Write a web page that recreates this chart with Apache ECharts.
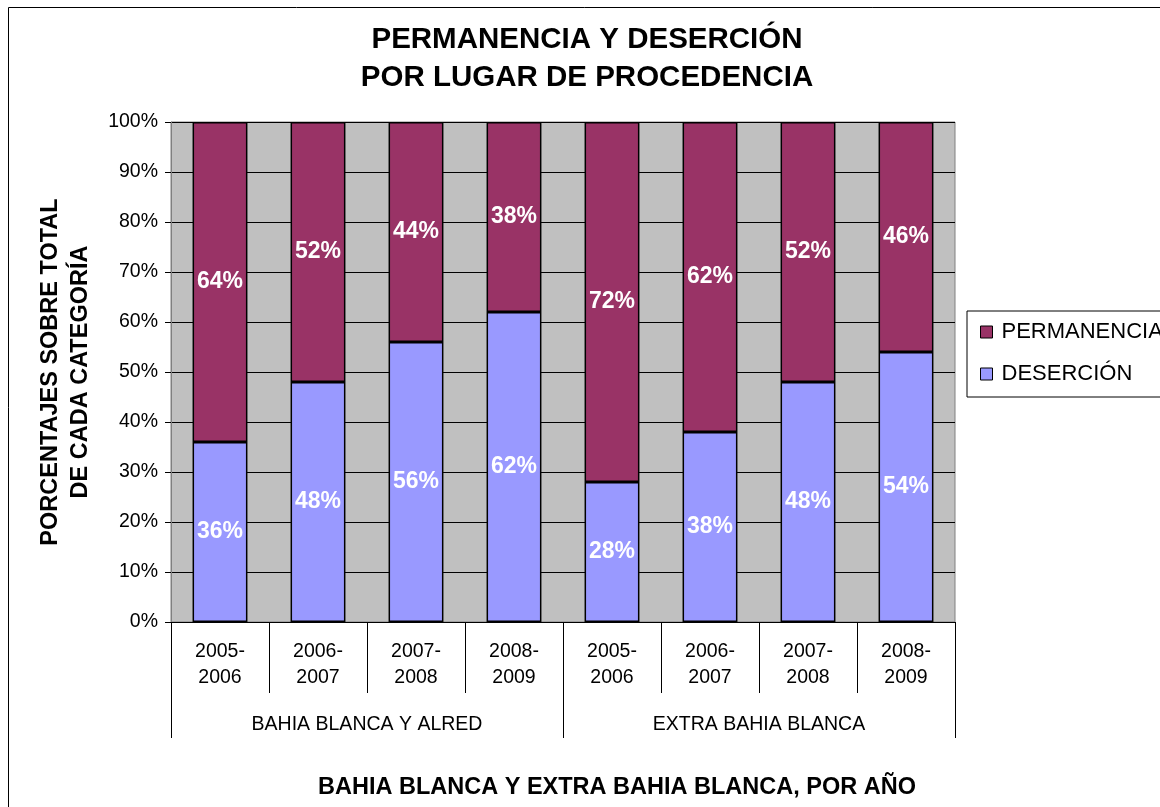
<!DOCTYPE html>
<html>
<head>
<meta charset="utf-8">
<title>Permanencia y deserción</title>
<script src="https://cdn.jsdelivr.net/npm/echarts@6/dist/echarts.min.js"></script>
<style>
html,body{margin:0;padding:0;background:#fff;}
#chart{width:1160px;height:807px;}
</style>
</head>
<body>
<div id="chart"></div>
<script>
// datos
var years = ['2005-\n2006','2006-\n2007','2007-\n2008','2008-\n2009','2005-\n2006','2006-\n2007','2007-\n2008','2008-\n2009'];
var groups = ['BAHIA BLANCA Y ALRED','EXTRA BAHIA BLANCA'];
var desercion = [36,48,56,62,28,38,48,54];
var permanencia = [64,52,44,38,72,62,52,46];

var fuente = 'Arial, "Liberation Sans", sans-serif';

var myChart = echarts.init(document.getElementById('chart'));

var labelBar = {
	show: true,
	position: 'inside',
	color: '#fff',
	fontSize: 23,
	fontWeight: 'bold',
	fontFamily: fuente,
	formatter: '{c}%'
};

option = {
	backgroundColor: '#fff',
	animation: false,
	textStyle: { fontFamily: fuente },
	graphic: [
		{
			type: 'rect',
			z: -10,
			shape: { x: 8.5, y: 7.5, width: 1300, height: 900 },
			style: { fill: 'none', stroke: '#000', lineWidth: 1 }
		}
	],
	title: [
		{
			text: 'PERMANENCIA Y DESERCIÓN\nPOR LUGAR DE PROCEDENCIA',
			left: 587,
			top: 21,
			padding: 0,
			textAlign: 'center',
			textStyle: { fontSize: 29.5, fontWeight: 'bold', color: '#000', lineHeight: 38, fontFamily: fuente }
		},
		{
			text: 'BAHIA BLANCA Y EXTRA BAHIA BLANCA, POR AÑO',
			left: 617,
			top: 776,
			padding: 0,
			textAlign: 'center',
			textStyle: { fontSize: 23.5, fontWeight: 'bold', color: '#000', lineHeight: 24, fontFamily: fuente }
		}
	],
	legend: {
		orient: 'vertical',
		left: 967,
		top: 311,
		padding: [10, 30, 12, 13],
		itemGap: 20,
		itemWidth: 12,
		itemHeight: 12,
		icon: 'rect',
		borderColor: '#000',
		borderWidth: 1,
		backgroundColor: '#fff',
		data: ['PERMANENCIA', 'DESERCIÓN'],
		itemStyle: { borderColor: '#000', borderWidth: 1 },
		textStyle: { fontSize: 22, color: '#000', lineHeight: 22, padding: [0, 0, 0, 4], fontFamily: fuente }
	},
	grid: {
		left: 171,
		top: 122,
		right: 205,
		bottom: 185,
		show: true,
		backgroundColor: '#C0C0C0',
		borderColor: '#808080',
		borderWidth: 1,
		outerBoundsMode: 'none'
	},
	xAxis: [
		{
			type: 'category',
			data: years,
			position: 'bottom',
			axisLine: { show: true, lineStyle: { color: '#000', width: 1 } },
			axisTick: { show: true, length: 71, interval: 0, lineStyle: { color: '#000' } },
			axisLabel: { interval: 0, margin: 17, fontSize: 19.5, lineHeight: 26, color: '#000', fontFamily: fuente },
			splitLine: { show: false }
		},
		{
			type: 'category',
			data: groups,
			position: 'bottom',
			axisLine: { show: false },
			axisTick: { show: true, length: 116, interval: 0, lineStyle: { color: '#000' } },
			axisLabel: { interval: 0, margin: 92, fontSize: 19.5, lineHeight: 22, color: '#000', fontFamily: fuente },
			splitLine: { show: false }
		}
	],
	yAxis: {
		type: 'value',
		min: 0,
		max: 100,
		interval: 10,
		name: 'PORCENTAJES SOBRE TOTAL\nDE CADA CATEGORÍA',
		nameLocation: 'middle',
		nameRotate: 90,
		nameGap: 75,
		nameTextStyle: { fontSize: 23.5, fontWeight: 'bold', color: '#000', lineHeight: 30, fontFamily: fuente },
		axisLine: { show: true, lineStyle: { color: '#808080', width: 1 } },
		axisTick: { show: true, length: 6, lineStyle: { color: '#000' } },
		axisLabel: { margin: 13, fontSize: 19.5, color: '#000', formatter: '{value}%', fontFamily: fuente },
		splitLine: { show: true, lineStyle: { color: '#000', width: 1 } }
	},
	series: [
		{
			name: 'DESERCIÓN',
			type: 'bar',
			stack: 'total',
			xAxisIndex: 0,
			barWidth: '56%',
			data: desercion,
			itemStyle: { color: '#9999FF', borderColor: '#000', borderWidth: 1.5 },
			label: labelBar
		},
		{
			name: 'PERMANENCIA',
			type: 'bar',
			stack: 'total',
			xAxisIndex: 0,
			barWidth: '56%',
			data: permanencia,
			itemStyle: { color: '#993366', borderColor: '#000', borderWidth: 1.5 },
			label: labelBar
		}
	]
};

if (option && typeof option === "object") {
	myChart.setOption(option, true);
}
</script>
</body>
</html>
